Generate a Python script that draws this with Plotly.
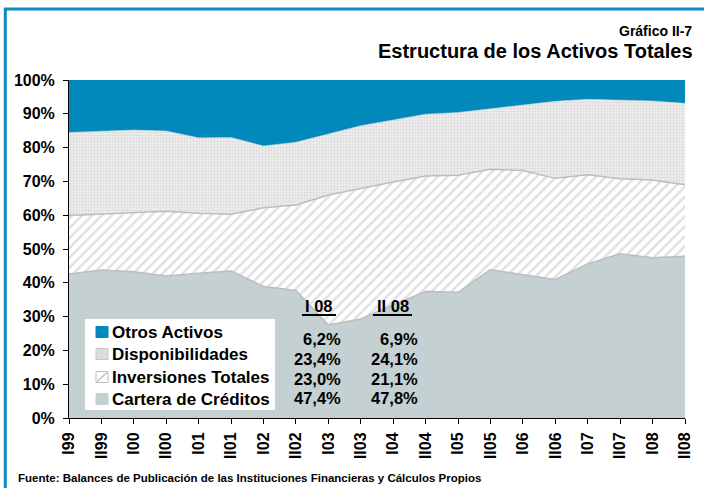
import plotly.graph_objects as go

periodos = ["I99", "II99", "I00", "II00", "I01", "II01", "I02", "II02", "I03", "II03",
            "I04", "II04", "I05", "II05", "I06", "II06", "I07", "II07", "I08", "II08"]

cartera = [42.6, 43.8, 43.3, 42.0, 42.8, 43.5, 38.9, 37.7, 27.5, 29.3,
           33.5, 37.4, 37.2, 43.9, 42.4, 41.0, 45.6, 48.6, 47.4, 47.8]
inversiones = [17.3, 16.6, 17.5, 19.2, 17.8, 16.8, 23.3, 25.3, 38.5, 38.7,
               36.3, 34.2, 34.6, 29.7, 30.8, 29.9, 26.4, 22.2, 23.0, 21.1]
disponibilidades = [24.6, 24.5, 24.4, 23.7, 22.3, 22.7, 18.3, 18.6, 18.0, 18.5,
                    18.4, 18.3, 18.6, 17.9, 19.3, 22.8, 22.3, 23.3, 23.4, 24.1]
otros = [15.5, 15.1, 14.8, 15.1, 17.1, 17.0, 19.5, 18.4, 16.0, 13.5,
         11.8, 10.1, 9.6, 8.5, 7.5, 6.3, 5.7, 5.9, 6.2, 6.9]

series_nombres = ["Otros Activos", "Disponibilidades", "Inversiones Totales", "Cartera de Créditos"]
valores_I08 = [6.2, 23.4, 23.0, 47.4]
valores_II08 = [6.9, 24.1, 21.1, 47.8]
encabezados = ["I 08", "II 08"]

titulo = "Estructura de los Activos Totales"
subtitulo = "Gráfico II-7"
fuente = "Fuente: Balances de Publicación de las Instituciones Financieras y Cálculos Propios"

# ---- styling / geometry ----
W, H = 704, 488
L, R, T, B = 69, 685, 80, 418
FONT = "Liberation Sans, Arial, sans-serif"
C_OTROS = "#0089BA"
C_CART = "#C4D0D1"
C_LINE = "#BDBDBD"


def px(x):
    return (x - L) / (R - L)


def py(y):
    return (B - y) / (B - T)


xs = list(range(len(periodos)))
fig = go.Figure()

fig.add_trace(go.Scatter(
    x=xs, y=cartera, name="Cartera de Créditos", stackgroup="a", groupnorm="percent",
    mode="lines", line=dict(color=C_LINE, width=1.5), fillcolor=C_CART))
fig.add_trace(go.Scatter(
    x=xs, y=inversiones, name="Inversiones Totales", stackgroup="a",
    mode="lines", line=dict(color=C_LINE, width=1.5),
    fillpattern=dict(shape="/", fgcolor="#C2C2C2", bgcolor="white", size=7, solidity=0.35)))
fig.add_trace(go.Scatter(
    x=xs, y=disponibilidades, name="Disponibilidades", stackgroup="a",
    mode="lines", line=dict(color="#D0D0D0", width=0.5),
    fillpattern=dict(shape=".", fgcolor="#C4C4C4", bgcolor="#F2F2F2", size=3, solidity=0.5)))
fig.add_trace(go.Scatter(
    x=xs, y=otros, name="Otros Activos", stackgroup="a",
    mode="lines", line=dict(color=C_OTROS, width=0), fillcolor=C_OTROS))

shapes = []
annotations = []

# outer frame (left & top visible)
shapes.append(dict(type="rect", xref="paper", yref="paper",
                   x0=px(5.3), x1=px(900), y0=py(700), y1=py(9),
                   line=dict(color="#0E8CC0", width=3), fillcolor="rgba(0,0,0,0)", layer="above"))

# legend box
shapes.append(dict(type="rect", xref="paper", yref="paper",
                   x0=px(85), x1=px(275), y0=py(410), y1=py(319),
                   line=dict(width=0), fillcolor="white", layer="above"))

row_y = [332, 354, 377, 399]
sw_fill = [C_OTROS, "#DCDCDC", "white", C_CART]
sw_line = [C_OTROS, "#C8C8C8", "#BDBDBD", C_CART]
for i, name in enumerate(series_nombres):
    yc = row_y[i]
    shapes.append(dict(type="rect", xref="paper", yref="paper",
                       x0=px(96), x1=px(108), y0=py(yc + 5.5), y1=py(yc - 5.5),
                       line=dict(color=sw_line[i], width=1), fillcolor=sw_fill[i], layer="above"))
    if i == 2:
        shapes.append(dict(type="line", xref="paper", yref="paper",
                           x0=px(97), x1=px(107), y0=py(yc + 4.5), y1=py(yc - 4.5),
                           line=dict(color="#BDBDBD", width=1.5), layer="above"))
    annotations.append(dict(xref="paper", yref="paper", x=px(110), y=py(yc),
                            xanchor="left", yanchor="middle", showarrow=False,
                            text="<b>%s</b>" % name,
                            font=dict(family=FONT, size=17, color="black")))

# table
val_y = [339, 359, 379, 398]
for j, (vals, xr) in enumerate([(valores_I08, 343), (valores_II08, 420)]):
    for i, v in enumerate(vals):
        annotations.append(dict(xref="paper", yref="paper", x=px(xr), y=py(val_y[i]),
                                xanchor="right", yanchor="middle", showarrow=False,
                                text="<b>%s%%</b>" % ("%.1f" % v).replace(".", ","),
                                font=dict(family=FONT, size=16.5, color="black")))
hdr_x = [319, 393]
ul = [(302, 336), (373, 412)]
for j, h in enumerate(encabezados):
    annotations.append(dict(xref="paper", yref="paper", x=px(hdr_x[j]), y=py(306),
                            xanchor="center", yanchor="middle", showarrow=False,
                            text="<b>%s</b>" % h,
                            font=dict(family=FONT, size=16.5, color="black")))
    shapes.append(dict(type="line", xref="paper", yref="paper",
                       x0=px(ul[j][0]), x1=px(ul[j][1]), y0=py(315), y1=py(315),
                       line=dict(color="black", width=2), layer="above"))

# titles
annotations.append(dict(xref="paper", yref="paper", x=px(694), y=py(31),
                        xanchor="right", yanchor="middle", showarrow=False,
                        text="<b>%s</b>" % subtitulo,
                        font=dict(family=FONT, size=14, color="black")))
annotations.append(dict(xref="paper", yref="paper", x=px(695), y=py(51),
                        xanchor="right", yanchor="middle", showarrow=False,
                        text="<b>%s</b>" % titulo,
                        font=dict(family=FONT, size=20, color="black")))
annotations.append(dict(xref="paper", yref="paper", x=px(16), y=py(478),
                        xanchor="left", yanchor="middle", showarrow=False,
                        text="<b>%s</b>" % fuente,
                        font=dict(family=FONT, size=11.5, color="black")))

fig.update_layout(
    width=W, height=H,
    margin=dict(l=L, r=W - R, t=T, b=H - B, pad=0),
    paper_bgcolor="white", plot_bgcolor="white",
    showlegend=False,
    shapes=shapes, annotations=annotations,
    xaxis=dict(range=[0, len(periodos) - 1], tickmode="array", tickvals=xs, ticktext=periodos,
               tickangle=-90, showgrid=False, zeroline=False,
               showline=True, linecolor="black", linewidth=1,
               ticks="outside", ticklen=5, tickcolor="black", ticklabelstandoff=2,
               tickfont=dict(family=FONT, size=16, color="black", weight="bold")),
    yaxis=dict(range=[0, 100], dtick=10, ticksuffix="%", showgrid=False, zeroline=False,
               showline=True, linecolor="black", linewidth=1,
               ticks="outside", ticklen=5, tickcolor="black", ticklabelstandoff=5,
               tickfont=dict(family=FONT, size=16, color="black", weight="bold")),
)

fig.write_html("out.html", config={"displayModeBar": False},
               post_script="document.body.style.margin='0';document.body.style.overflow='hidden';")
